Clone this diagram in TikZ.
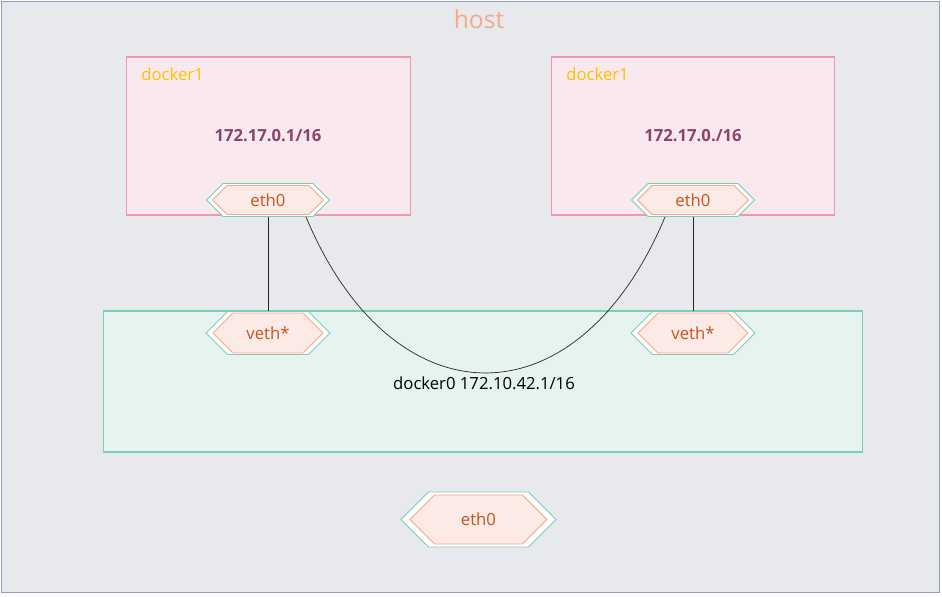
\documentclass[tikz,border=0pt]{standalone}
\usepackage{fontspec}
\setmainfont{Open Sans}
\usetikzlibrary{shapes.symbols, positioning}

\definecolor{hostbg}{HTML}{E8E9ED}
\definecolor{hostline}{HTML}{8EA0BE}
\definecolor{hosttxt}{HTML}{F4A98A}
\definecolor{dockbg}{HTML}{F9E9EF}
\definecolor{dockline}{HTML}{EF98B0}
\definecolor{nametxt}{HTML}{FFC000}
\definecolor{iptxt}{HTML}{8B4370}
\definecolor{bridgebg}{HTML}{E6F3EF}
\definecolor{hexout}{HTML}{7ACFB6}
\definecolor{hexin}{HTML}{F4A98A}
\definecolor{hexbg}{HTML}{FBEAE5}
\definecolor{ethtxt}{HTML}{C0561E}

\begin{document}
\begin{tikzpicture}[x=0.02cm, y=-0.02cm, every node/.style={font=\fontsize{9.5}{11}\selectfont, inner sep=0pt},
  box/.style={draw, line width=0.6pt},
  hostbox/.style={box, draw=hostline, fill=hostbg, minimum width=18.78cm, minimum height=11.84cm},
  dockbox/.style={box, draw=dockline, fill=dockbg, minimum width=5.67cm, minimum height=3.16cm},
  bridgebox/.style={box, draw=hexout, fill=bridgebg, minimum width=15.2cm, minimum height=2.82cm},
  namelbl/.style={text=nametxt, anchor=west},
  iplbl/.style={text=iptxt, font=\fontsize{9.5}{11}\selectfont\bfseries},
  port/.style={shape=signal, signal to=east and west, signal pointer angle=90, line width=0.5pt},
  portout/.style={port, draw=hexout, fill=white},
  portin/.style={port, draw=hexin, fill=hexbg, text=ethtxt},
  link/.style={draw=black!85, line width=0.4pt}]
  \useasboundingbox (0,0) rectangle (942,596);
  % host and containers
  \node[hostbox] (host) at (470.5,297) {};
  \node[text=hosttxt, font=\fontsize{14}{16}\selectfont] (hostlbl) at (479,19) {host};
  \node[dockbox] (dockl) at (268.5,136) {};
  \node[dockbox] (dockr) at (693,136) {};
  \node[namelbl] (namel) at (141,74) {docker1};
  \node[namelbl] (namer) at (566,74) {docker1};
  \node[iplbl] (ipl) at (268,136) {172.17.0.1/16};
  \node[iplbl] (ipr) at (693,136) {172.17.0./16};
  \node[bridgebox] (bridge) at (483,381.5) {};
  \node (bridgelbl) at (484,383) {docker0 172.10.42.1/16};
  % interfaces
  \node[portout, minimum width=2.46cm, minimum height=0.66cm] (eth0l) at (268,200) {};
  \node[portin, minimum width=2.22cm, minimum height=0.58cm] at (eth0l) {eth0};
  \node[portout, minimum width=2.46cm, minimum height=0.66cm] (eth0r) at (693,200) {};
  \node[portin, minimum width=2.22cm, minimum height=0.58cm] at (eth0r) {eth0};
  \node[portout, minimum width=2.48cm, minimum height=0.86cm] (vethl) at (268,333) {};
  \node[portin, minimum width=2.20cm, minimum height=0.80cm] at (vethl) {veth*};
  \node[portout, minimum width=2.48cm, minimum height=0.86cm] (vethr) at (693,333) {};
  \node[portin, minimum width=2.20cm, minimum height=0.80cm] at (vethr) {veth*};
  \node[portout, minimum width=3.10cm, minimum height=1.10cm] (eth0h) at (478.5,519.5) {};
  \node[portin, minimum width=2.74cm, minimum height=0.98cm] at (eth0h) {eth0};
  % links
  \draw[link] (eth0l.south) -- (vethl.north);
  \draw[link] (eth0r.south) -- (vethr.north);
  \draw[link] ([xshift=0.76cm]eth0l.south) .. controls +(87,208) and +(-87,208) .. ([xshift=-0.56cm]eth0r.south);
\end{tikzpicture}
\end{document}
